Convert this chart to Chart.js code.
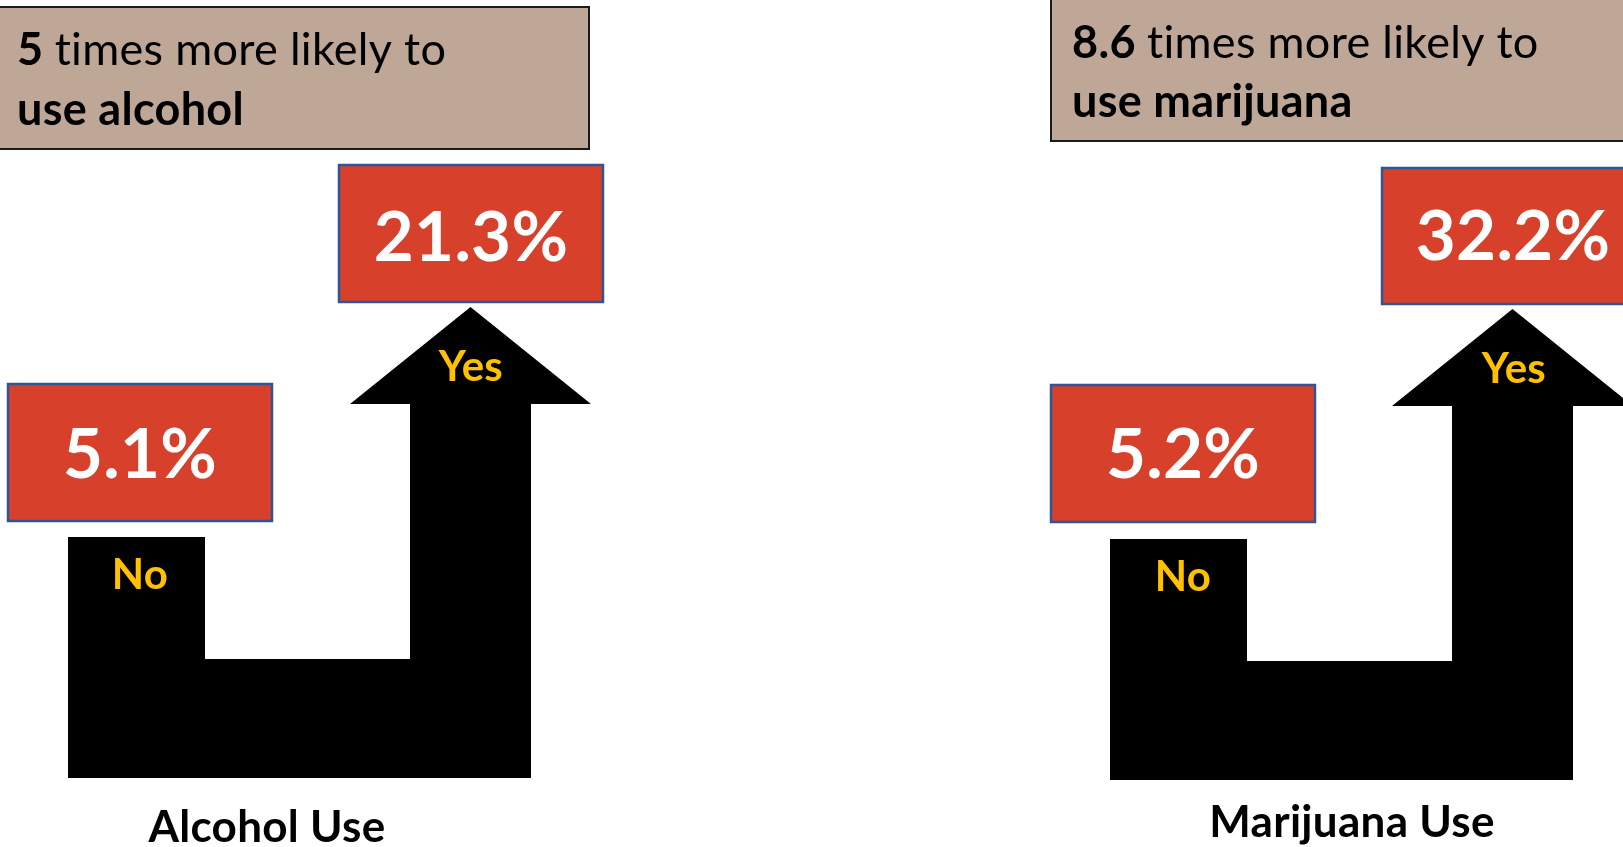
<!DOCTYPE html>
<html lang="en">
<head>
  <meta charset="UTF-8" />
  <title>Alcohol and Marijuana Use: No vs Yes</title>
  <script src="https://cdn.jsdelivr.net/npm/chart.js"></script>
  <style>
    html, body {
      margin: 0;
      padding: 0;
      background: #ffffff;
      overflow: hidden;
    }
    #board {
      display: block;
    }
  </style>
</head>
<body>
  <canvas id="board" width="1623" height="847"></canvas>

  <script>
    // one panel per substance
    const groups = ["Alcohol Use", "Marijuana Use"];
    const substances = ["alcohol", "marijuana"];
    const ratios = ["5", "8.6"];
    const noValues = [5.1, 5.2];
    const yesValues = [21.3, 32.2];
    const answers = ["No", "Yes"];

    const FONT = "Lato, 'Open Sans', sans-serif";
    const TAN = "#bfa798";
    const RED = "#d7402a";
    const BLUE = "#2f5597";
    const GOLD = "#ffc000";

    // page layout, in the same units as the hidden scales (x right, y down)
    const panelLayout = [
      {
        note: { x0: -10, x1: 589, y0: 7, y1: 149, tx: 17, base1: 65, base2: 125 },
        noBox: { x0: 8, x1: 272, y0: 384, y1: 521, tx: 140, base: 478 },
        yesBox: { x0: 339, x1: 603, y0: 165, y1: 302, tx: 471, base: 261 },
        arrow: { dx: 0, dy: 0 },
        noText: { x: 140, base: 589 },
        yesText: { x: 471, base: 381 },
        title: { x: 267, base: 842 }
      },
      {
        note: { x0: 1051, x1: 1640, y0: -10, y1: 141, tx: 1072, base1: 58, base2: 117 },
        noBox: { x0: 1051, x1: 1315, y0: 385, y1: 522, tx: 1183, base: 478 },
        yesBox: { x0: 1382, x1: 1646, y0: 168, y1: 304, tx: 1513, base: 260 },
        arrow: { dx: 1042, dy: 2 },
        noText: { x: 1183, base: 591 },
        yesText: { x: 1514, base: 383 },
        title: { x: 1352, base: 837 }
      }
    ];

    // U-turn arrow outline: short "No" stem, base, tall "Yes" stem with head
    const arrowOutline = [
      [68, 537], [205, 537], [205, 659], [410, 659], [410, 404], [350, 404],
      [470.5, 307], [591, 404], [531, 404], [531, 778], [68, 778]
    ];

    const infographic = {
      id: "infographic",
      afterDraw(chart) {
        const ctx = chart.ctx;
        const sx = chart.scales.x;
        const sy = chart.scales.y;
        const px = v => sx.getPixelForValue(v);
        const py = v => sy.getPixelForValue(v);

        function box(b, fill, stroke, lw) {
          const x = px(b.x0), y = py(b.y0);
          const w = px(b.x1) - x, h = py(b.y1) - y;
          ctx.fillStyle = fill;
          ctx.fillRect(x, y, w, h);
          ctx.lineWidth = lw;
          ctx.strokeStyle = stroke;
          ctx.strokeRect(x, y, w, h);
        }

        function text(str, x, base, font, color, align) {
          ctx.font = font;
          ctx.fillStyle = color;
          ctx.textAlign = align || "center";
          ctx.textBaseline = "alphabetic";
          ctx.fillText(str, px(x), py(base));
        }

        ctx.save();
        // a tiny bit of tracking keeps Lato from joining "ti" into a ligature
        ctx.letterSpacing = "0.3px";
        panelLayout.forEach((p, i) => {
          // headline box
          box(p.note, TAN, "#1a1a1a", 2);
          ctx.font = "bold 45px " + FONT;
          const lead = ratios[i] + " ";
          const leadW = ctx.measureText(lead).width;
          text(lead, p.note.tx, p.note.base1, "bold 45px " + FONT, "#000", "left");
          text("times more likely to", p.note.tx + leadW, p.note.base1, "45px " + FONT, "#000", "left");
          text("use " + substances[i], p.note.tx, p.note.base2, "bold 45px " + FONT, "#000", "left");

          // arrow
          ctx.beginPath();
          arrowOutline.forEach(([ax, ay], k) => {
            const X = px(ax + p.arrow.dx), Y = py(ay + p.arrow.dy);
            if (k === 0) ctx.moveTo(X, Y); else ctx.lineTo(X, Y);
          });
          ctx.closePath();
          ctx.fillStyle = "#000";
          ctx.fill();

          // value boxes
          box(p.noBox, RED, BLUE, 2.5);
          box(p.yesBox, RED, BLUE, 2.5);
          const pctFont = "bold 69px " + FONT;
          text(noValues[i].toFixed(1) + "%", p.noBox.tx, p.noBox.base, pctFont, "#fff");
          text(yesValues[i].toFixed(1) + "%", p.yesBox.tx, p.yesBox.base, pctFont, "#fff");

          // answer labels on the arrow
          text(answers[0], p.noText.x, p.noText.base, "bold 42px " + FONT, GOLD);
          text(answers[1], p.yesText.x, p.yesText.base, "bold 42px " + FONT, GOLD);

          // group title
          text(groups[i], p.title.x, p.title.base, "bold 44px " + FONT, "#000");
        });
        ctx.restore();
      }
    };

    new Chart(document.getElementById("board").getContext("2d"), {
      type: "scatter",
      data: { datasets: [] },
      options: {
        responsive: false,
        animation: false,
        layout: { padding: 0 },
        plugins: {
          legend: { display: false },
          tooltip: { enabled: false }
        },
        scales: {
          x: { type: "linear", min: 0, max: 1623, display: false },
          y: { type: "linear", min: 0, max: 847, reverse: true, display: false }
        }
      },
      plugins: [infographic]
    });
  </script>
</body>
</html>
